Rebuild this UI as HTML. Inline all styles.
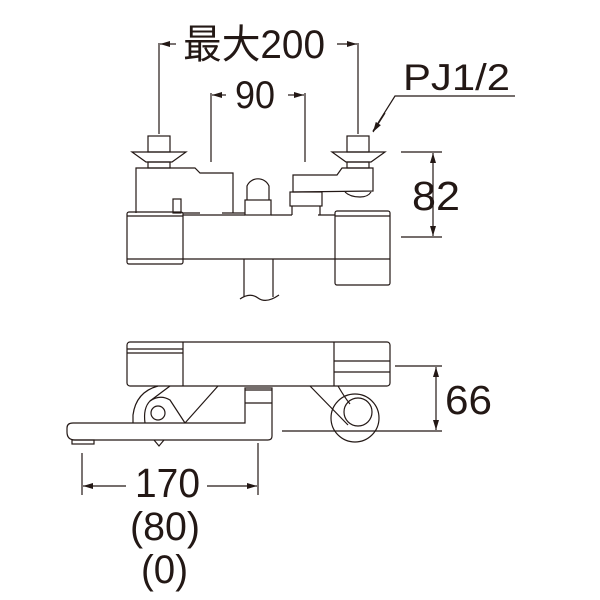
<!DOCTYPE html>
<html><head><meta charset="utf-8"><style>
html,body{margin:0;padding:0;background:#fff;}
svg{display:block;}
text{font-family:"Liberation Sans","Noto Sans CJK JP",sans-serif;fill:#231815;}
</style></head><body>
<svg width="600" height="600" viewBox="0 0 600 600" xmlns="http://www.w3.org/2000/svg">
<defs>
<marker id="a" viewBox="0 0 10 6" refX="10" refY="3" markerWidth="10" markerHeight="6" orient="auto-start-reverse" markerUnits="userSpaceOnUse"><path d="M0,0 L10,3 L0,6 z" fill="#231815"/></marker>
</defs>
<g stroke="#231815" stroke-width="1.2" fill="none">
<line x1="159" y1="43" x2="159" y2="134"/>
<line x1="358" y1="43" x2="358" y2="134"/>
<line x1="160" y1="44" x2="176" y2="44" marker-start="url(#a)"/>
<line x1="337" y1="44" x2="357" y2="44" marker-end="url(#a)"/>
<line x1="211" y1="93" x2="211" y2="162"/>
<line x1="305" y1="93" x2="305" y2="162"/>
<line x1="212" y1="95" x2="226" y2="95" marker-start="url(#a)"/>
<line x1="288" y1="95" x2="304" y2="95" marker-end="url(#a)"/>
<polyline points="515,96 395,96 373,131" />
<line x1="385" y1="113" x2="373" y2="132" marker-end="url(#a)"/>
<line x1="401" y1="152" x2="442" y2="152"/>
<line x1="401" y1="237" x2="442" y2="237"/>
<line x1="433" y1="153" x2="433" y2="236" marker-start="url(#a)" marker-end="url(#a)"/>

<rect x="148" y="136" width="22" height="16"/>
<polygon points="132,152 186,152 172,162 146,162"/>
<rect x="148" y="162" width="22" height="6"/>
<polyline points="136,213 136,168 195,168 200,173 233,173 233,213"/>
<rect x="173" y="199" width="8" height="14"/>
<line x1="183" y1="213" x2="200" y2="213"/>
<line x1="222" y1="213" x2="245" y2="213"/>
<rect x="127" y="212" width="56" height="52" rx="2"/>
<line x1="127" y1="216" x2="183" y2="216"/>
<line x1="127" y1="259" x2="183" y2="259"/>
<line x1="183" y1="259" x2="335" y2="259"/>
<line x1="183" y1="215" x2="245" y2="215"/>
<line x1="271" y1="215" x2="292" y2="215"/>
<line x1="318" y1="215" x2="335" y2="215"/>
<rect x="335" y="211" width="55" height="74" rx="2"/>
<line x1="335" y1="216" x2="390" y2="216"/>
<line x1="335" y1="259" x2="390" y2="259"/>
<path d="M247,200 L247,186 A12,12 0 0 1 269,186 L269,200"/>
<rect x="245" y="200" width="26" height="15"/>
<line x1="244" y1="259" x2="244" y2="297"/>
<line x1="273" y1="259" x2="273" y2="297"/>
<path d="M240,299 Q250,292 258,298 Q266,304 279,295"/>
<path d="M293,192 L293,175 L337,175 L342,168 L373,168 L373,191 Z"/>
<path d="M345,192 Q350,197 360,197 Q368,197 371,192"/>
<rect x="290" y="192" width="32" height="14"/>
<line x1="292" y1="206" x2="292" y2="215"/>
<line x1="320" y1="206" x2="320" y2="215"/>
<rect x="347" y="136" width="22" height="16"/>
<polygon points="332,152 385,152 371,162 346,162"/>
<rect x="347" y="162" width="22" height="6"/>

<rect x="127" y="342" width="263" height="44" rx="3"/>
<line x1="183" y1="342" x2="183" y2="386"/>
<line x1="334" y1="342" x2="334" y2="386"/>
<line x1="127" y1="349" x2="183" y2="349"/>
<line x1="127" y1="353" x2="183" y2="353"/>
<line x1="334" y1="361" x2="390" y2="361"/>
<line x1="334" y1="372" x2="390" y2="372"/>
<path d="M158,386 Q136,392 133,415 L133,423"/>
<path d="M170,386 L150,401 Q143,408 145,423"/>
<path d="M150,401 Q160,394 170,400 L185,423"/>
<circle cx="158" cy="413" r="7"/>
<line x1="185" y1="423" x2="218" y2="386"/>
<path d="M245,423 L245,388 L272,388 L272,436 Q272,440 268,440 L75,440 Q67,440 67,432 L67,428 Q67,423 73,423 Z"/>
<line x1="245" y1="403" x2="272" y2="403"/>
<line x1="245" y1="390" x2="272" y2="390"/>
<rect x="72" y="440" width="22" height="4"/>
<path d="M154,440 L159,446 L164,440"/>
<line x1="310" y1="386" x2="348" y2="425"/>
<path d="M338,386 Q345,398 350,404"/>
<circle cx="355" cy="418" r="24"/>
<circle cx="358" cy="412" r="14"/>
<line x1="395" y1="366" x2="442" y2="366"/>
<line x1="282" y1="431" x2="442" y2="431"/>
<line x1="436" y1="367" x2="436" y2="430" marker-start="url(#a)" marker-end="url(#a)"/>
<line x1="82" y1="453" x2="82" y2="495"/>
<line x1="258" y1="443" x2="258" y2="495"/>
<line x1="83" y1="486" x2="126" y2="486" marker-start="url(#a)"/>
<line x1="207" y1="486" x2="257" y2="486" marker-end="url(#a)"/>
</g>
<text x="183" y="58" font-size="40" textLength="142" lengthAdjust="spacingAndGlyphs">最大200</text>
<text x="235" y="108" font-size="39" textLength="40" lengthAdjust="spacingAndGlyphs">90</text>
<text x="403" y="90" font-size="37" textLength="107" lengthAdjust="spacingAndGlyphs">PJ1/2</text>
<text x="412" y="210" font-size="41" textLength="48" lengthAdjust="spacingAndGlyphs">82</text>
<text x="445" y="414" font-size="41" textLength="47" lengthAdjust="spacingAndGlyphs">66</text>
<text x="135" y="497" font-size="41" textLength="65" lengthAdjust="spacingAndGlyphs">170</text>
<text x="130" y="540" font-size="40" textLength="70" lengthAdjust="spacingAndGlyphs">(80)</text>
<text x="141" y="583" font-size="40" textLength="47" lengthAdjust="spacingAndGlyphs">(0)</text>
</svg>
</body></html>
